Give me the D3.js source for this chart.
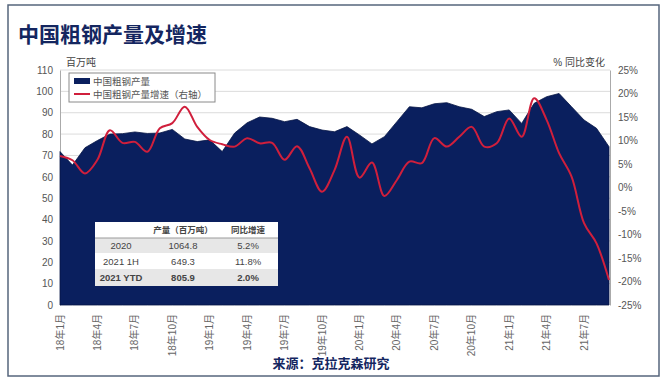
<!DOCTYPE html>
<html>
<head>
<meta charset="utf-8">
<script src="https://cdn.jsdelivr.net/npm/d3@7"></script>
<style>
  body { margin: 0; background: #fff; }
  text { font-family: "Liberation Sans", "Noto Sans CJK SC", sans-serif; }
</style>
</head>
<body>
<div id="chart"></div>
<script>
// monthly categories, Jan 2018 - Sep 2021
const months = [
  '18年1月','18年2月','18年3月','18年4月','18年5月','18年6月','18年7月','18年8月','18年9月','18年10月','18年11月','18年12月',
  '19年1月','19年2月','19年3月','19年4月','19年5月','19年6月','19年7月','19年8月','19年9月','19年10月','19年11月','19年12月',
  '20年1月','20年2月','20年3月','20年4月','20年5月','20年6月','20年7月','20年8月','20年9月','20年10月','20年11月','20年12月',
  '21年1月','21年2月','21年3月','21年4月','21年5月','21年6月','21年7月','21年8月','21年9月'
];

// crude steel output, million tonnes (left axis)
const output = [
  71.8, 65.5, 73.6, 77.0, 80.0, 80.2, 81.0, 80.3, 80.5, 82.2, 77.7, 76.5,
  77.3, 71.8, 80.5, 85.3, 88.0, 87.4, 85.8, 86.9, 83.5, 81.9, 81.1, 83.5,
  79.6, 75.4, 78.8, 85.8, 92.8, 92.3, 94.2, 94.7, 92.8, 91.6, 88.2, 90.5,
  91.3, 85.0, 94.4, 97.5, 99.0, 92.8, 86.6, 82.7, 74.1
];

// year-on-year growth, % (right axis)
const growth = [
  6.7, 5.8, 3.0, 5.9, 12.2, 9.5, 9.7, 7.6, 12.6, 13.7, 17.2, 12.9,
  10.1, 9.2, 8.7, 10.5, 9.4, 9.5, 5.9, 8.8, 4.1, -0.9, 3.7, 10.8,
  2.1, 5.3, -1.8, 1.6, 5.5, 5.2, 10.5, 8.7, 10.8, 12.9, 8.7, 9.4,
  14.7, 10.8, 19.0, 14.4, 7.3, 2.3, -7.6, -11.9, -19.7
];

const leftTicks = [0, 10, 20, 30, 40, 50, 60, 70, 80, 90, 100, 110];
const rightTicks = [-25, -20, -15, -10, -5, 0, 5, 10, 15, 20, 25];

// summary table
const tableHeader = ['', '产量（百万吨）', '同比增速'];
const tablePeriods = ['2020', '2021 1H', '2021 YTD'];
const tableOutput = ['1064.8', '649.3', '805.9'];
const tableGrowth = ['5.2%', '11.8%', '2.0%'];

const W = 670, H = 380;
const navy = '#0a1f5e', red = '#d01f3c', titleCol = '#142660';

const svg = d3.select('#chart').append('svg')
    .attr('width', W)
    .attr('height', H);

// outer frame
svg.append('rect')
    .attr('x', 8).attr('y', 5)
    .attr('width', 651).attr('height', 371)
    .attr('fill', '#fff')
    .attr('stroke', '#56657c')
    .attr('stroke-width', 1.5);

svg.append('text')
    .attr('x', 18).attr('y', 42)
    .attr('font-size', 21)
    .attr('font-weight', 'bold')
    .attr('fill', titleCol)
    .text('中国粗钢产量及增速');

const x = d3.scaleLinear().domain([0, months.length - 1]).range([60, 609]);
const yL = d3.scaleLinear().domain([0, 110]).range([305, 70]);
const yR = d3.scaleLinear().domain([-25, 25]).range([305, 70]);

// gridlines
svg.append('g')
  .selectAll('line')
  .data(leftTicks.slice(1))
  .enter().append('line')
    .attr('x1', 60).attr('x2', 610)
    .attr('y1', d => yL(d)).attr('y2', d => yL(d))
    .attr('stroke', '#dcdcdc')
    .attr('stroke-width', 1);

// left axis
const axL = svg.append('g')
    .attr('transform', 'translate(60,0)')
    .call(d3.axisLeft(yL).tickValues(leftTicks).tickSize(0).tickPadding(7));
axL.select('.domain').attr('stroke', '#aaa');
axL.selectAll('text').attr('font-size', 10).attr('fill', '#555')
    .style('font-family', '"Liberation Sans", sans-serif');

// right axis
const axR = svg.append('g')
    .attr('transform', 'translate(610,0)')
    .call(d3.axisRight(yR).tickValues(rightTicks).tickSize(0).tickPadding(8)
      .tickFormat(d => d + '%'));
axR.select('.domain').attr('stroke', '#aaa');
axR.selectAll('text').attr('font-size', 10).attr('fill', '#555')
    .style('font-family', '"Liberation Sans", sans-serif');

// axis titles
svg.append('text')
    .attr('x', 66).attr('y', 66)
    .attr('font-size', 10).attr('fill', '#444')
    .text('百万吨');
svg.append('text')
    .attr('x', 605).attr('y', 66)
    .attr('text-anchor', 'end')
    .attr('font-size', 10).attr('fill', '#444')
    .text('% 同比变化');

// production area
const area = d3.area()
    .x((d, i) => x(i))
    .y0(yL(0))
    .y1(d => yL(d));

svg.append('path')
    .datum(output)
    .attr('d', area)
    .attr('fill', navy)
    .attr('stroke', '#061545')
    .attr('stroke-width', 0.8);

// growth line (smoothed)
const line = d3.line()
    .x((d, i) => x(i))
    .y(d => yR(d))
    .curve(d3.curveCatmullRom.alpha(0.5));

svg.append('path')
    .datum(growth)
    .attr('d', line)
    .attr('fill', 'none')
    .attr('stroke', red)
    .attr('stroke-width', 2);

// x labels every quarter
const xTickIdx = d3.range(0, months.length, 3);
svg.append('g')
  .selectAll('text')
  .data(xTickIdx)
  .enter().append('text')
    .attr('transform', i => `translate(${x(i) + 3.5}, 314) rotate(-90)`)
    .attr('text-anchor', 'end')
    .attr('font-size', 10)
    .attr('fill', '#666')
    .text(i => months[i]);

// legend
const lg = svg.append('g');
lg.append('rect')
    .attr('x', 69).attr('y', 73)
    .attr('width', 146).attr('height', 29)
    .attr('fill', '#fff')
    .attr('stroke', '#8a8a8a');
lg.append('rect')
    .attr('x', 74).attr('y', 78)
    .attr('width', 16).attr('height', 6)
    .attr('fill', navy);
lg.append('text')
    .attr('x', 93).attr('y', 85)
    .attr('font-size', 9.5).attr('fill', '#555')
    .text('中国粗钢产量');
lg.append('line')
    .attr('x1', 74).attr('x2', 90)
    .attr('y1', 94).attr('y2', 94)
    .attr('stroke', red).attr('stroke-width', 2);
lg.append('text')
    .attr('x', 93).attr('y', 98)
    .attr('font-size', 9.5).attr('fill', '#555')
    .text('中国粗钢产量增速（右轴）');

// summary table
const tb = svg.append('g');
const colX = [121, 183, 248];
const rowY = [222, 238, 253, 269, 286];
tb.append('rect')
    .attr('x', 95).attr('y', rowY[0])
    .attr('width', 183).attr('height', rowY[4] - rowY[0])
    .attr('fill', '#fff');
tb.selectAll('rect.band')
  .data([1, 3])
  .enter().append('rect')
    .attr('class', 'band')
    .attr('x', 95).attr('y', r => rowY[r])
    .attr('width', 183).attr('height', r => rowY[r + 1] - rowY[r])
    .attr('fill', '#e7e7e7');
tb.append('line')
    .attr('x1', 95).attr('x2', 278)
    .attr('y1', rowY[1]).attr('y2', rowY[1])
    .attr('stroke', '#9a9a9a');

tb.selectAll('text.head')
  .data(tableHeader)
  .enter().append('text')
    .attr('class', 'head')
    .attr('x', (d, i) => colX[i])
    .attr('y', 233)
    .attr('text-anchor', 'middle')
    .attr('font-size', 8.5)
    .attr('font-weight', 'bold')
    .attr('fill', '#444')
    .text(d => d);

tablePeriods.forEach((p, r) => {
  const cells = [p, tableOutput[r], tableGrowth[r]];
  const yy = (rowY[r + 1] + rowY[r + 2]) / 2 + 3.5;
  cells.forEach((c, j) => {
    tb.append('text')
        .attr('x', colX[j]).attr('y', yy)
        .attr('text-anchor', 'middle')
        .attr('font-size', 9.5)
        .attr('font-weight', r === 2 ? 'bold' : 'normal')
        .attr('fill', '#444')
        .text(c);
  });
});

// source
svg.append('text')
    .attr('x', 331).attr('y', 368)
    .attr('text-anchor', 'middle')
    .attr('font-size', 13)
    .attr('font-weight', 'bold')
    .attr('fill', titleCol)
    .text('来源：克拉克森研究');
</script>
</body>
</html>
